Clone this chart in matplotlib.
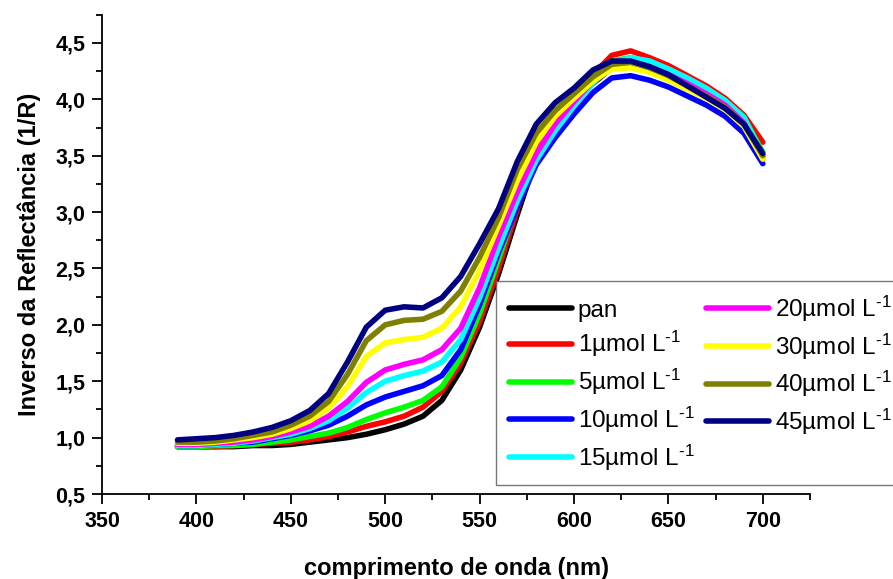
import matplotlib
matplotlib.use("Agg")
import matplotlib.pyplot as plt
from matplotlib.ticker import MultipleLocator, FuncFormatter

plt.rcParams['font.family'] = ['Liberation Sans', 'DejaVu Sans']
plt.rcParams['mathtext.fontset'] = 'custom'
plt.rcParams['mathtext.rm'] = 'Liberation Sans'
plt.rcParams['mathtext.default'] = 'regular'

# Data
wavelength = [390, 400, 410, 420, 430, 440, 450, 460, 470, 480, 490, 500, 510, 520, 530, 540,
              550, 560, 570, 580, 590, 600, 610, 620, 630, 640, 650, 660, 670, 680, 690, 700]

pan = [0.92, 0.92, 0.92, 0.92, 0.93, 0.93, 0.94, 0.96, 0.98, 1.00, 1.03, 1.07, 1.12, 1.19, 1.33, 1.60,
       1.98, 2.45, 2.98, 3.48, 3.80, 3.98, 4.14, 4.28, 4.31, 4.28, 4.22, 4.13, 4.05, 3.95, 3.80, 3.50]
c1 = [0.92, 0.92, 0.92, 0.93, 0.94, 0.95, 0.96, 0.98, 1.01, 1.05, 1.10, 1.14, 1.19, 1.27, 1.41, 1.66,
      2.03, 2.50, 3.03, 3.52, 3.84, 4.03, 4.22, 4.39, 4.43, 4.37, 4.30, 4.21, 4.12, 4.01, 3.86, 3.62]
c5 = [0.92, 0.92, 0.93, 0.93, 0.94, 0.96, 0.98, 1.01, 1.04, 1.09, 1.16, 1.22, 1.27, 1.33, 1.45, 1.71,
      2.10, 2.58, 3.08, 3.50, 3.83, 4.02, 4.20, 4.34, 4.37, 4.33, 4.26, 4.18, 4.09, 3.99, 3.84, 3.53]
c10 = [0.93, 0.93, 0.94, 0.95, 0.96, 0.99, 1.02, 1.06, 1.11, 1.19, 1.29, 1.36, 1.41, 1.46, 1.55, 1.78,
       2.18, 2.64, 3.05, 3.42, 3.66, 3.87, 4.06, 4.19, 4.21, 4.17, 4.11, 4.03, 3.95, 3.85, 3.70, 3.43]
c15 = [0.93, 0.93, 0.94, 0.95, 0.97, 1.00, 1.03, 1.08, 1.15, 1.26, 1.40, 1.50, 1.55, 1.59, 1.67, 1.87,
       2.24, 2.68, 3.10, 3.46, 3.72, 3.94, 4.14, 4.32, 4.37, 4.34, 4.27, 4.19, 4.10, 3.99, 3.84, 3.50]
c20 = [0.94, 0.94, 0.95, 0.96, 0.98, 1.01, 1.05, 1.10, 1.19, 1.32, 1.49, 1.60, 1.65, 1.69, 1.78, 1.97,
       2.33, 2.78, 3.18, 3.52, 3.78, 3.98, 4.16, 4.30, 4.33, 4.29, 4.22, 4.14, 4.05, 3.95, 3.79, 3.47]
c30 = [0.95, 0.95, 0.96, 0.98, 1.00, 1.03, 1.08, 1.15, 1.26, 1.45, 1.72, 1.84, 1.87, 1.89, 1.97, 2.16,
       2.48, 2.88, 3.28, 3.62, 3.85, 4.01, 4.16, 4.27, 4.28, 4.24, 4.17, 4.09, 4.01, 3.91, 3.76, 3.47]
c40 = [0.96, 0.96, 0.97, 0.99, 1.02, 1.05, 1.11, 1.19, 1.32, 1.56, 1.86, 2.00, 2.04, 2.05, 2.12, 2.30,
       2.60, 2.95, 3.38, 3.70, 3.90, 4.05, 4.20, 4.31, 4.33, 4.28, 4.21, 4.12, 4.03, 3.93, 3.78, 3.50]
c45 = [0.98, 0.99, 1.00, 1.02, 1.05, 1.09, 1.15, 1.24, 1.39, 1.67, 1.98, 2.13, 2.16, 2.15, 2.24, 2.43,
       2.72, 3.03, 3.45, 3.78, 3.97, 4.10, 4.26, 4.34, 4.34, 4.29, 4.22, 4.12, 4.02, 3.92, 3.78, 3.52]

series = [pan, c1, c5, c10, c15, c20, c30, c40, c45]
sup = r'$^{\text{-}1}$'
labels = ['pan', '1µmol L' + sup, '5µmol L' + sup, '10µmol L' + sup, '15µmol L' + sup,
          '20µmol L' + sup, '30µmol L' + sup, '40µmol L' + sup, '45µmol L' + sup]
colors = ['#000000', '#FF0000', '#00FF00', '#0000FF', '#00FFFF',
          '#FF00FF', '#FFFF00', '#808000', '#000080']

fig = plt.figure(figsize=(8.93, 5.79), dpi=100)
ax = fig.add_axes([102 / 893, 1 - 494 / 579, (810 - 102) / 893, (494 - 14.8) / 579])

for y, lab, col in zip(series, labels, colors):
    ax.plot(wavelength, y, color=col, lw=4, label=lab,
            solid_capstyle='round', solid_joinstyle='round')

ax.set_xlim(350, 725)
ax.set_ylim(0.5, 4.75)
ax.xaxis.set_major_locator(MultipleLocator(50))
ax.xaxis.set_minor_locator(MultipleLocator(25))
ax.yaxis.set_major_locator(MultipleLocator(0.5))
ax.yaxis.set_minor_locator(MultipleLocator(0.25))
ax.yaxis.set_major_formatter(FuncFormatter(lambda v, p: f'{v:.1f}'.replace('.', ',')))
ax.set_xticks([v for v in range(350, 701, 50)])

for s in ['top', 'right']:
    ax.spines[s].set_visible(False)
for s in ['left', 'bottom']:
    ax.spines[s].set_linewidth(1.3)

ax.tick_params(which='major', direction='out', length=7, width=1.3, labelsize=15.5, pad=5)
ax.tick_params(which='minor', direction='out', length=4, width=1.3)
for t in ax.get_xticklabels() + ax.get_yticklabels():
    t.set_fontweight('bold')

ax.set_xlabel('comprimento de onda (nm)', fontsize=17, fontweight='bold', labelpad=18)
ax.set_ylabel('Inverso da Reflectância (1/R)', fontsize=17, fontweight='bold', labelpad=10)

leg = ax.legend(ncol=2, loc='upper left', bbox_to_anchor=(496 / 893, 1 - 281 / 579),
                bbox_transform=fig.transFigure, borderaxespad=0, fontsize=17.5,
                frameon=True, fancybox=False, handlelength=2.6, handletextpad=0.25,
                columnspacing=0.45, labelspacing=0.31, borderpad=0.52)
leg.get_frame().set_edgecolor('#555555')
leg.get_frame().set_linewidth(1.0)

plt.savefig('out.png', dpi=100)
